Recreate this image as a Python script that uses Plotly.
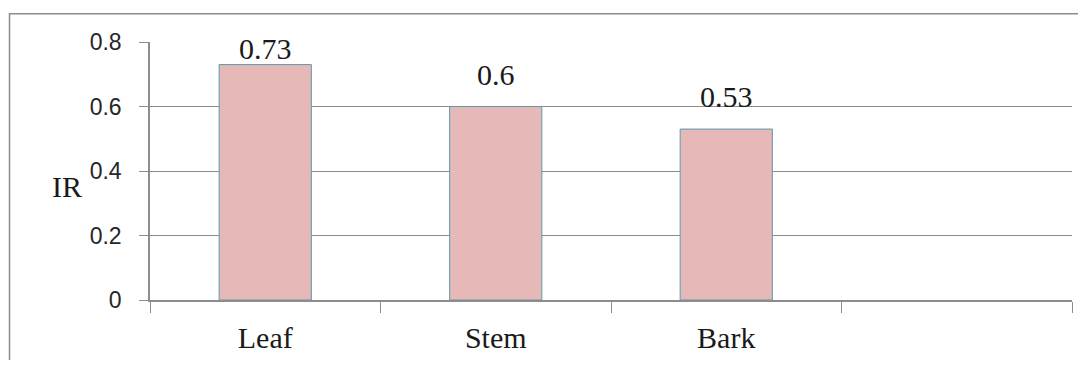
import plotly.graph_objects as go

categories = ["Leaf", "Stem", "Bark"]
values = [0.73, 0.6, 0.53]
value_labels = ["0.73", "0.6", "0.53"]
all_categories = ["Leaf", "Stem", "Bark", " "]
y_ticks = [0, 0.2, 0.4, 0.6, 0.8]
y_tick_labels = ["0", "0.2", "0.4", "0.6", "0.8"]

OFF = 8  # default browser body margin
W, H = 1086 - 2 * OFF, 368 - 2 * OFF
L, T = 150 - OFF, 42 - OFF
R = W - (1072 - OFF)
B = H - (302 - OFF)
pw, ph = W - L - R, H - T - B

def px_x(px):
    return (px - OFF - L) / pw

def px_y(py):
    return (H - B - (py - OFF)) / ph

fig = go.Figure()
fig.add_trace(go.Bar(
    x=categories, y=values, width=0.4,
    marker=dict(color="#E6B9B8", line=dict(color="#5A9AA8", width=1)),
    hoverinfo="skip",
))

annotations = []
for c, v, t in zip(categories, values, value_labels):
    ly = min(v + 0.062, 0.74)
    annotations.append(dict(
        x=c, y=ly, xref="x", yref="y", text=t, showarrow=False,
        yanchor="bottom", yshift=-6,
        font=dict(family="Liberation Serif", size=30, color="#1a1a1a"),
    ))
annotations.append(dict(
    x=px_x(67), y=px_y(188), xref="paper", yref="paper", text="IR",
    showarrow=False, xanchor="center", yanchor="middle",
    font=dict(family="Liberation Serif", size=30, color="#1a1a1a"),
))

fig.update_layout(
    width=W, height=H,
    margin=dict(l=L, r=R, t=T, b=B, pad=0),
    paper_bgcolor="white", plot_bgcolor="white",
    showlegend=False,
    annotations=annotations,
    shapes=[dict(
        type="path", xref="paper", yref="paper",
        path=f"M {px_x(9.5)} {px_y(400)} L {px_x(9.5)} {px_y(13.5)} L {px_x(1120)} {px_y(13.5)}",
        line=dict(color="#8C8C8C", width=1.5),
    )],
    xaxis=dict(
        type="category", categoryorder="array", categoryarray=all_categories,
        range=[-0.5, 3.5], tickson="boundaries",
        ticks="outside", ticklen=11, tickcolor="#8C8C8C", tickwidth=1,
        showline=True, linecolor="#8C8C8C", linewidth=1.5,
        showgrid=False, zeroline=False, ticklabelstandoff=10,
        tickfont=dict(family="Liberation Serif", size=30, color="#1a1a1a"),
    ),
    yaxis=dict(
        range=[0, 0.8], tickvals=y_ticks, ticktext=y_tick_labels,
        ticks="outside", ticklen=9, tickcolor="#8C8C8C", tickwidth=1,
        showline=True, linecolor="#8C8C8C", linewidth=1.5,
        showgrid=True, gridcolor="#8C8C8C", gridwidth=1,
        zeroline=False, ticklabelstandoff=13,
        tickfont=dict(family="Liberation Sans", size=23, color="#262626"),
    ),
)

fig.write_html("out.html")
